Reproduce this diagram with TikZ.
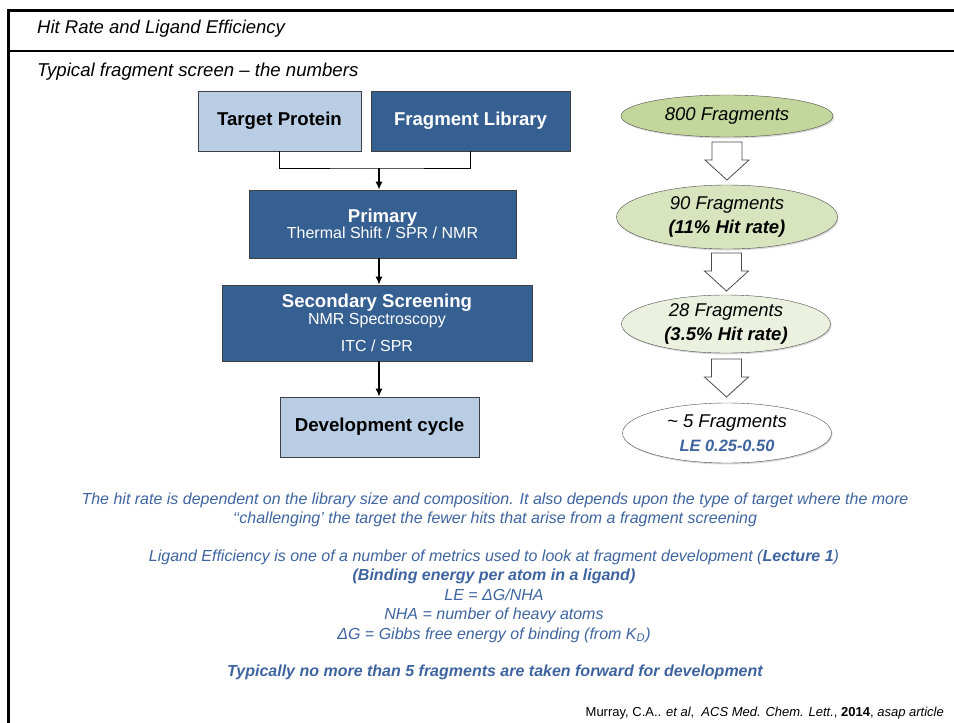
\documentclass[tikz,border=0pt]{standalone}
\usepackage{fontspec}
\setmainfont{Liberation Sans}
\usepackage{tikz}
\usetikzlibrary{shapes,arrows,arrows.meta,shadows,calc}
\definecolor{lightblue}{HTML}{B9CDE5}
\definecolor{darkblue}{HTML}{376092}
\definecolor{textblue}{HTML}{3E64A0}
\definecolor{greenA}{HTML}{C3D69B}
\definecolor{greenB}{HTML}{D7E4BD}
\definecolor{greenC}{HTML}{EBF1DE}
\tikzstyle{lightbox}=[draw=black!75,
                      fill=lightblue,
                      line width=0.8pt,
                      inner sep=0pt,
                      text centered]
\tikzstyle{darkbox}=[draw=black!75,
                     fill=darkblue,
                     line width=0.8pt,
                     text=white,
                     inner sep=0pt,
                     align=center]
\tikzstyle{count}=[ellipse,
                   draw=black!70,
                   inner sep=-4pt,
                   align=center,
                   font=\itshape\fontsize{18.5}{24}\selectfont,
                   drop shadow={shadow xshift=1pt,shadow yshift=-1.5pt,opacity=.3}]
\tikzstyle{funnel}=[draw=black!70, fill=white, line width=0.8pt]
\tikzstyle{note}=[text=textblue,
                  inner sep=0pt,
                  align=center,
                  font=\itshape\fontsize{16}{19.5}\selectfont]

\begin{document}
\begin{tikzpicture}[x=1pt, y=-1pt]
    \useasboundingbox (0,0) rectangle (954,723);
    \draw[line width=3pt] (8.5,723) -- (8.5,10) -- (954,10);
    \draw[line width=2pt] (8.5,51) -- (954,51);
    \node[anchor=west, inner sep=0pt, font=\itshape\fontsize{18.5}{21}\selectfont] (title) at (37,29) {Hit Rate and Ligand Efficiency};
    \node[anchor=west, inner sep=0pt, font=\itshape\fontsize{18.6}{21}\selectfont] (subtitle) at (37,72) {Typical fragment screen – the numbers};

    \node[lightbox, minimum width=163pt, minimum height=60pt, font=\bfseries\fontsize{18.6}{21}\selectfont] (target) at (279.5,121) {Target Protein};
    \node[darkbox, minimum width=199pt, minimum height=60pt, font=\bfseries\fontsize{18.6}{21}\selectfont] (library) at (470.5,121) {Fragment Library};
    \coordinate (join) at (379,168);
    \node[darkbox, minimum width=267pt, minimum height=68pt, font=\fontsize{16}{16}\selectfont] (primary) at (382.5,224) {{\bfseries\fontsize{18.6}{16}\selectfont Primary}\\Thermal Shift / SPR / NMR};
    \node[darkbox, minimum width=310pt, minimum height=76pt, font=\fontsize{16}{17}\selectfont] (secondary) at (377,323) {{\bfseries\fontsize{18.6}{17}\selectfont Secondary Screening}\\NMR Spectroscopy\\[10pt]ITC / SPR};
    \node[lightbox, minimum width=199pt, minimum height=60pt, font=\bfseries\fontsize{18.7}{21}\selectfont] (develop) at (379.5,427) {Development cycle};
    \draw[line width=1pt] (target.south) |- (join) -| (library.south);
    \path[-{Latex[length=8pt,width=7pt]}, line width=1.2pt] (join) edge (join |- primary.north)
        (primary.south -| join) edge (secondary.north -| join)
        (secondary.south -| join) edge (develop.north -| join);

    \node[count, fill=greenA, minimum width=212pt, minimum height=42pt] (e800) at (727,116) {800 Fragments};
    \node[count, fill=greenB, minimum width=221pt, minimum height=64pt] (e90) at (727,217) {90 Fragments\\\textbf{(11\% Hit rate)}};
    \node[count, fill=greenC, minimum width=209pt, minimum height=58pt] (e28) at (726,324) {28 Fragments\\\textbf{(3.5\% Hit rate)}};
    \node[count, fill=white, minimum width=209pt, minimum height=60pt] (e5) at (727,433) {\textasciitilde\ 5 Fragments\\{\color{textblue}\bfseries\fontsize{16.4}{24}\selectfont LE 0.25-0.50}};
    \foreach \a/\b in {e800/e90,e90/e28,e28/e5}
        \draw[funnel] ($(\a.south)!.5!(\b.north)$) ++(-15,-19) -- ++(30,0) -- ++(0,18) -- ++(7,0) -- ++(-22,20) -- ++(-22,-20) -- ++(7,0) -- cycle;

    \node[note] (hitrate) at (495,510) {The hit rate is dependent on the library size and composition. It also depends upon the type of target where the more\\‘‘challenging’ the target the fewer hits that arise from a fragment screening};
    \node[note] (ligand) at (494,596) {Ligand Efficiency is one of a number of metrics used to look at fragment development (\textbf{Lecture 1})\\\textbf{(Binding energy per atom in a ligand)}\\LE = ΔG/NHA\\NHA = number of heavy atoms\\ΔG = Gibbs free energy of binding (from K\textsubscript{D})};
    \node[note, font=\bfseries\itshape\fontsize{16}{19.5}\selectfont] (forward) at (495,672) {Typically no more than 5 fragments are taken forward for development};
    \node[anchor=east, inner sep=0pt, font=\fontsize{13}{15}\selectfont] (cite) at (944,713) {Murray, C.A.. \textit{et al},\ \ \textit{ACS Med. Chem. Lett.}, \textbf{2014}, \textit{asap article}};
\end{tikzpicture}
\end{document}
